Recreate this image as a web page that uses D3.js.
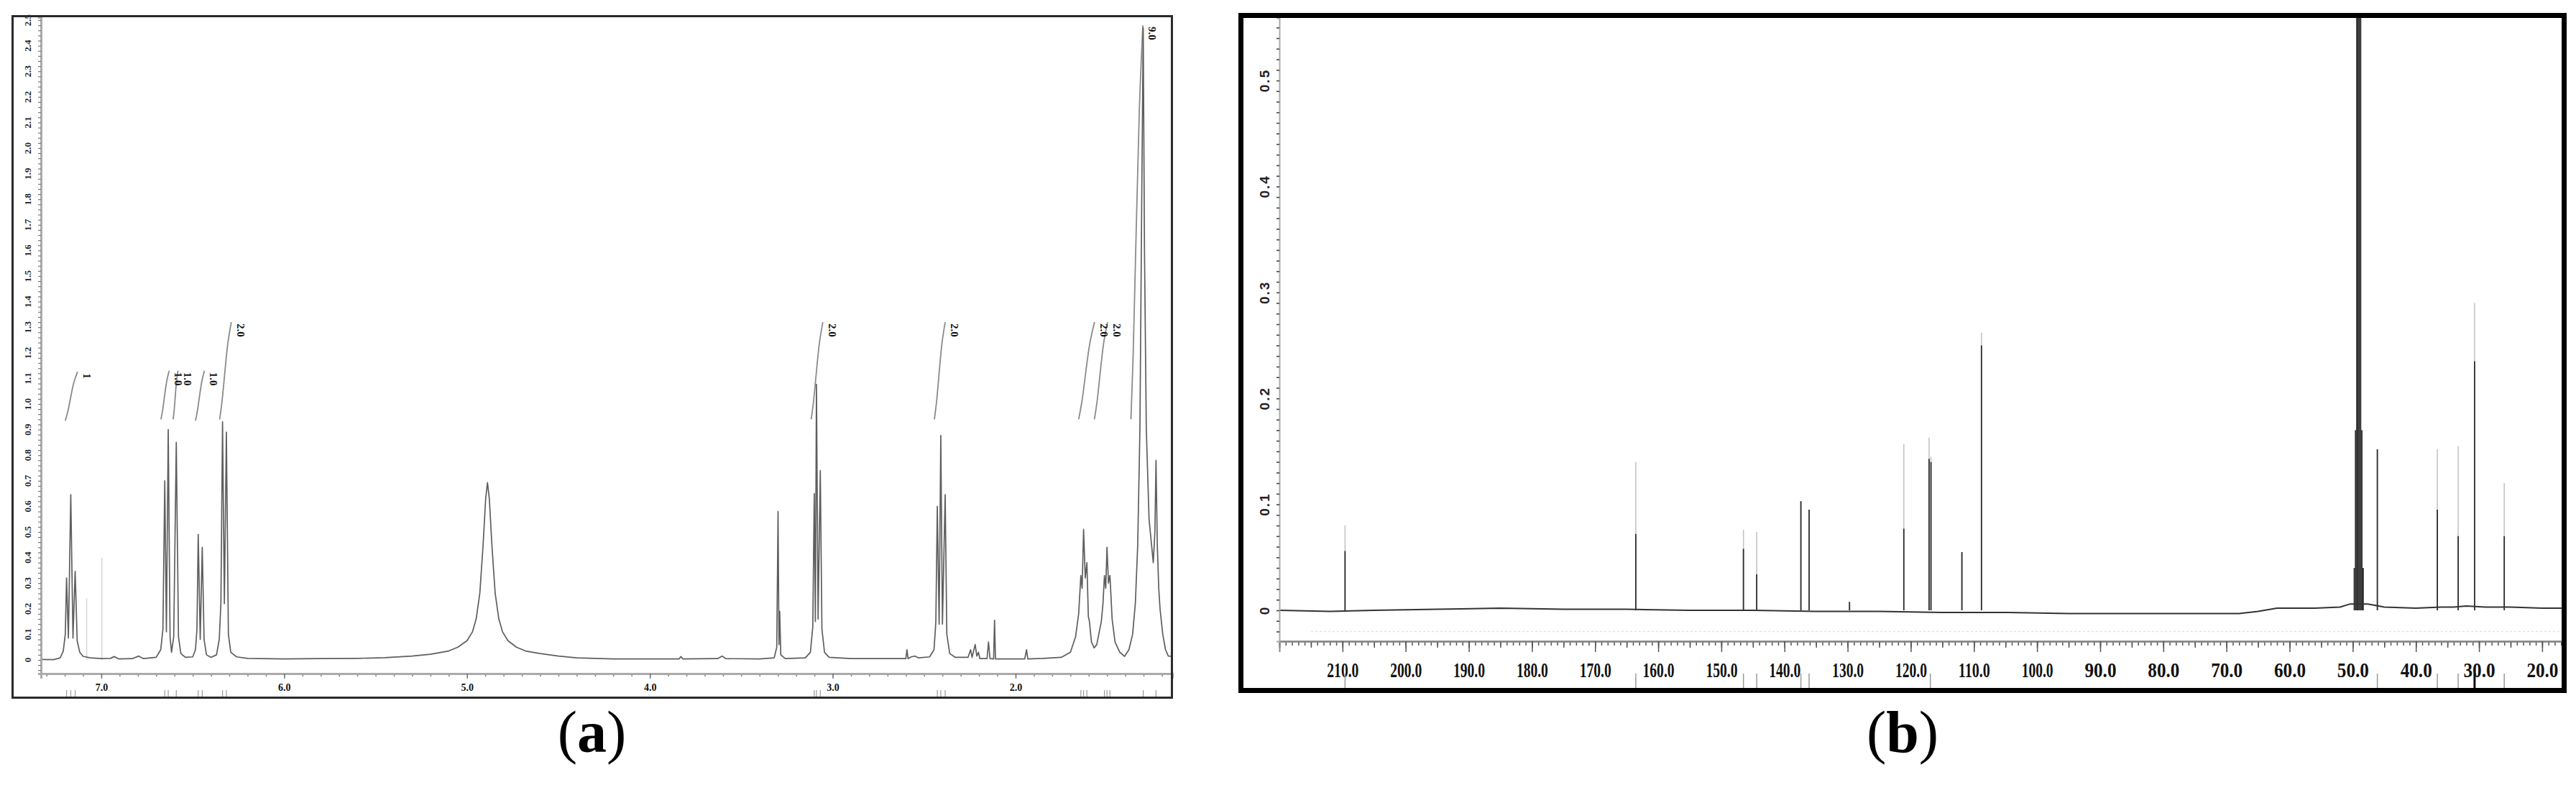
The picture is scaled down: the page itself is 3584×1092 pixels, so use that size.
<!DOCTYPE html>
<html>
<head>
<meta charset="utf-8">
<script src="https://cdn.jsdelivr.net/npm/d3@7"></script>
<style>
body { margin: 0; background: #fff; }
</style>
</head>
<body>
<script>
// ---------- panel (a) : 1H spectrum ----------
var hTrace = [
  [7.33,0.002],[7.26,0.001],[7.225,0.008],[7.208,0.035],[7.197,0.1],[7.19,0.32],[7.18,0.085],
  [7.167,0.646],[7.155,0.085],[7.143,0.346],[7.132,0.075],[7.118,0.03],[7.10,0.014],[7.06,0.008],
  [7.0,0.005],[6.95,0.006],[6.93,0.013],[6.905,0.004],[6.83,0.005],[6.795,0.015],[6.77,0.005],
  [6.70,0.01],[6.675,0.04],[6.663,0.12],[6.653,0.70],[6.644,0.11],[6.634,0.90],[6.624,0.09],
  [6.616,0.03],[6.604,0.09],[6.59,0.85],[6.578,0.09],[6.565,0.025],[6.54,0.01],[6.50,0.012],
  [6.485,0.04],[6.477,0.12],[6.470,0.49],[6.459,0.08],[6.448,0.44],[6.438,0.08],[6.425,0.02],
  [6.40,0.01],[6.37,0.02],[6.355,0.08],[6.346,0.22],[6.337,0.93],[6.327,0.22],[6.316,0.89],
  [6.305,0.10],[6.292,0.03],[6.26,0.012],[6.2,0.006],[6.0,0.004],[5.8,0.005],[5.6,0.006],
  [5.45,0.009],[5.3,0.015],[5.2,0.022],[5.1,0.035],[5.05,0.05],[5.0,0.075],[4.97,0.11],
  [4.95,0.16],[4.93,0.26],[4.912,0.45],[4.898,0.63],[4.888,0.693],[4.878,0.63],[4.864,0.45],
  [4.846,0.26],[4.826,0.16],[4.806,0.11],[4.776,0.075],[4.73,0.05],[4.68,0.035],[4.6,0.025],
  [4.5,0.015],[4.4,0.008],[4.2,0.004],[3.84,0.004],[3.83,0.013],[3.82,0.004],[3.63,0.005],
  [3.605,0.015],[3.585,0.005],[3.40,0.004],[3.32,0.008],[3.306,0.05],[3.299,0.58],[3.294,0.06],
  [3.29,0.19],[3.284,0.02],[3.26,0.005],[3.15,0.008],[3.122,0.03],[3.109,0.13],[3.101,0.65],
  [3.095,0.15],[3.089,1.077],[3.08,0.16],[3.068,0.74],[3.059,0.12],[3.045,0.03],[3.02,0.01],
  [2.9,0.005],[2.7,0.005],[2.60,0.005],[2.594,0.04],[2.588,0.005],[2.57,0.012],[2.55,0.015],
  [2.53,0.008],[2.47,0.012],[2.446,0.04],[2.436,0.15],[2.428,0.60],[2.418,0.14],[2.409,0.877],
  [2.40,0.14],[2.385,0.646],[2.376,0.10],[2.36,0.025],[2.33,0.01],[2.26,0.01],[2.246,0.04],
  [2.238,0.01],[2.221,0.06],[2.212,0.015],[2.203,0.03],[2.195,0.005],[2.156,0.005],[2.148,0.07],
  [2.14,0.005],[2.12,0.004],[2.115,0.155],[2.11,0.004],[1.95,0.004],[1.940,0.04],[1.933,0.004],
  [1.85,0.006],[1.75,0.01],[1.70,0.03],[1.672,0.09],[1.655,0.18],[1.643,0.33],[1.636,0.28],
  [1.628,0.51],[1.619,0.32],[1.61,0.38],[1.602,0.17],[1.596,0.15],[1.585,0.07],[1.57,0.047],
  [1.556,0.06],[1.545,0.10],[1.531,0.15],[1.522,0.22],[1.514,0.33],[1.507,0.28],[1.500,0.44],
  [1.492,0.30],[1.484,0.33],[1.472,0.16],[1.456,0.07],[1.43,0.03],[1.404,0.014],[1.38,0.04],
  [1.36,0.10],[1.345,0.22],[1.332,0.45],[1.32,0.9],[1.31,1.8],[1.302,2.47],[1.295,1.6],
  [1.285,0.9],[1.27,0.55],[1.247,0.38],[1.238,0.5],[1.232,0.78],[1.225,0.45],[1.217,0.28],
  [1.21,0.2],[1.195,0.10],[1.18,0.04],[1.165,0.015],[1.143,0.014]
];
// faint scan artefacts near 7 ppm
var hGhostPpm = [7.08, 6.997];
var hGhostVal = [0.24, 0.40];

// integration curves
var intStart = [7.197, 6.674, 6.607, 6.485, 6.353, 3.118, 2.444, 1.655, 1.569, 1.369];
var intEnd   = [7.130, 6.629, 6.581, 6.436, 6.289, 3.054, 2.385, 1.568, 1.497, 1.304];
var intLow   = [0.935, 0.94, 0.94, 0.935, 0.94, 0.94, 0.94, 0.94, 0.94, 0.94];
var intHigh  = [1.126, 1.13, 1.13, 1.13, 1.32, 1.32, 1.32, 1.32, 1.32, 2.48];
var intLabels = ["1", "1.0", "1.0", "1.0", "2.0", "2.0", "2.0", "2.0", "2.0", "9.0"];

// peak pick marks under the axis
var hMarks = [7.19,7.167,7.143,6.653,6.634,6.59,6.47,6.448,6.337,6.316,3.101,3.089,3.068,
              2.428,2.409,2.385,1.643,1.628,1.61,1.514,1.5,1.484,1.302,1.232];

var hTickLabels = [7, 6, 5, 4, 3, 2];

// ---------- panel (b) : 13C spectrum ----------
var cBase = [
  [220,0],[212,-0.001],[205,0],[195,0.001],[185,0.002],[175,0.001],[165,0.001],[155,0],
  [145,0],[135,-0.001],[125,-0.001],[115,-0.002],[105,-0.002],[95,-0.003],[85,-0.003],
  [75,-0.003],[68,-0.003],[65,-0.001],[62,0.002],[56,0.002],[52,0.003],[50.4,0.006],
  [47.6,0.006],[45,0.003],[40,0.002],[36,0.003],[34,0.003],[32,0.004],[29,0.003],[25,0.003],
  [20,0.002],[16.8,0.002]
];
var cPpm  = [209.6, 163.55, 146.5, 144.4, 137.4, 136.1, 129.7, 121.1, 117.1, 116.8, 111.9, 108.8,
             49.75, 49.55, 49.35, 49.15, 48.95, 48.75, 48.55, 48.35,
             46.1, 36.6, 33.3, 30.7, 26.0];
var cDark = [0.056, 0.072, 0.058, 0.034, 0.103, 0.095, 0.008, 0.077, 0.143, 0.14, 0.055, 0.25,
             0.04, 0.17, 0.8, 0.8, 0.8, 0.8, 0.17, 0.04,
             0.152, 0.095, 0.07, 0.235, 0.07];
var cFull = [0.08, 0.14, 0.076, 0.074, 0.103, 0.095, 0.008, 0.157, 0.163, 0.145, 0.055, 0.262,
             0.04, 0.17, 0.8, 0.8, 0.8, 0.8, 0.17, 0.04,
             0.152, 0.152, 0.155, 0.29, 0.12];
var cMarks = [209.6, 163.55, 146.5, 144.4, 137.4, 136.1, 116.9, 46.1, 36.6, 33.3, 30.7, 26.0];
var cTickLabels = d3.range(20, 211, 10);
var cYLabels = [0, 0.1, 0.2, 0.3, 0.4, 0.5];

var panelLabels = ["a", "b"];

// ======================================================
var svg = d3.select("body").append("svg")
  .attr("width", 3584)
  .attr("height", 1092)
  .style("background", "#fff");

var defs = svg.append("defs");

// ---------------- (a) ----------------
var xA = d3.scaleLinear().domain([7.33, 1.143]).range([57, 1631]);
var yA = d3.scaleLinear().domain([0, 2.5]).range([918, 28]);

defs.append("clipPath").attr("id", "clipA")
  .append("rect").attr("x", 58).attr("y", 24).attr("width", 1572).attr("height", 912);

var gA = svg.append("g");

// ghost lines
gA.append("g").attr("clip-path", "url(#clipA)")
  .selectAll("line").data(hGhostPpm).enter().append("line")
  .attr("x1", function(d){ return xA(d); }).attr("x2", function(d){ return xA(d); })
  .attr("y1", yA(0)).attr("y2", function(d, i){ return yA(hGhostVal[i]); })
  .attr("stroke", "#d6d6d6").attr("stroke-width", 1.5);

// integrals
var intLine = d3.line().curve(d3.curveCatmullRom);
var gInt = gA.append("g").attr("clip-path", "url(#clipA)");
intStart.forEach(function(s, i){
  var x0 = xA(s), x1 = xA(intEnd[i]), y0 = yA(intLow[i]), y1 = yA(intHigh[i]);
  var pts = [[x0, y0], [x0 + 0.2*(x1-x0), y0 + 0.18*(y1-y0)],
             [x0 + 0.7*(x1-x0), y0 + 0.78*(y1-y0)], [x1, y1]];
  gInt.append("path").attr("d", intLine(pts))
    .attr("fill", "none").attr("stroke", "#8a8a8a").attr("stroke-width", 1.8);
});
gA.append("g").selectAll("text").data(intLabels).enter().append("text")
  .attr("transform", function(d, i){
    return "translate(" + (xA(intEnd[i]) + 13) + "," + (yA(intHigh[i]) + 2) + ") rotate(90)";
  })
  .attr("dominant-baseline", "central")
  .attr("font-family", "Liberation Serif, serif")
  .attr("font-weight", "bold")
  .attr("font-size", 15)
  .attr("fill", "#111")
  .text(function(d){ return d; });

// spectrum trace
var lineA = d3.line()
  .x(function(d){ return xA(d[0]); })
  .y(function(d){ return yA(d[1]); });
gA.append("path").datum(hTrace)
  .attr("clip-path", "url(#clipA)")
  .attr("d", lineA)
  .attr("fill", "none")
  .attr("stroke", "#5e5e5e")
  .attr("stroke-width", 1.7)
  .attr("stroke-linejoin", "round");

// axes (a)
var yAaxis = yA.copy().domain([yA.invert(937), yA.invert(24)]).range([937, 24]);
var axAx = gA.append("g").attr("transform", "translate(0,937)");
axAx.call(d3.axisBottom(xA).tickValues(d3.range(73, 11, -1).map(function(v){ return v/10; }))
  .tickSize(4).tickFormat(""));
axAx.append("g").call(d3.axisBottom(xA).tickValues(hTickLabels).tickSize(7).tickPadding(7)
  .tickFormat(d3.format(".1f")));
axAx.selectAll(".domain").attr("stroke", "#aaa").attr("stroke-width", 3);
axAx.selectAll(".tick line").attr("stroke", "#777").attr("stroke-width", 1.5);
axAx.selectAll("text").attr("font-family", "Liberation Serif, serif")
  .attr("font-weight", "bold").attr("font-size", 14).attr("fill", "#111");

var axAy = gA.append("g").attr("transform", "translate(57,0)");
axAy.call(d3.axisLeft(yAaxis).tickValues(d3.range(-2, 126).map(function(v){ return v/50; }))
  .tickSize(4).tickFormat(""));
axAy.selectAll(".domain").attr("stroke", "#aaa").attr("stroke-width", 3);
axAy.selectAll(".tick line").attr("stroke", "#777").attr("stroke-width", 1.2);
gA.append("g").selectAll("text").data(d3.range(0, 26).map(function(v){ return v/10; }))
  .enter().append("text")
  .attr("transform", function(d){ return "translate(38," + yA(d) + ") rotate(-90)"; })
  .attr("text-anchor", "middle")
  .attr("dominant-baseline", "central")
  .attr("font-family", "Liberation Serif, serif")
  .attr("font-weight", "bold")
  .attr("font-size", 13)
  .attr("fill", "#222")
  .text(function(d){ return d === 0 ? "0" : d3.format(".1f")(d); });

// peak marks (a)
gA.append("g").selectAll("line").data(hMarks).enter().append("line")
  .attr("x1", function(d){ return xA(d); }).attr("x2", function(d){ return xA(d); })
  .attr("y1", 960).attr("y2", 969)
  .attr("stroke", "#999").attr("stroke-width", 1.2);

// frame (a)
gA.append("rect").attr("x", 17.5).attr("y", 22.5).attr("width", 1613).attr("height", 948)
  .attr("fill", "none").attr("stroke", "#2a2a2a").attr("stroke-width", 3);

// ---------------- (b) ----------------
var xB = d3.scaleLinear().domain([220, 16.8]).range([1780, 3565]);
var yB = d3.scaleLinear().domain([0, 0.5]).range([849, 112]);

defs.append("clipPath").attr("id", "clipB")
  .append("rect").attr("x", 1781).attr("y", 25).attr("width", 1784).attr("height", 866);

var gB = svg.append("g");

// faint scan line under baseline
gB.append("line")
  .attr("x1", xB(215)).attr("x2", xB(16.8))
  .attr("y1", yB(-0.02)).attr("y2", yB(-0.02))
  .attr("stroke", "#e2e2e2").attr("stroke-width", 1.5).attr("stroke-dasharray", "3,3");

var gPk = gB.append("g").attr("clip-path", "url(#clipB)");
gPk.selectAll("line.full").data(cPpm).enter().append("line").attr("class", "full")
  .attr("x1", function(d){ return xB(d); }).attr("x2", function(d){ return xB(d); })
  .attr("y1", yB(0)).attr("y2", function(d, i){ return yB(cFull[i]); })
  .attr("stroke", "#c4c4c4").attr("stroke-width", 1.6);
gPk.selectAll("line.dark").data(cPpm).enter().append("line").attr("class", "dark")
  .attr("x1", function(d){ return xB(d); }).attr("x2", function(d){ return xB(d); })
  .attr("y1", yB(0)).attr("y2", function(d, i){ return yB(cDark[i]); })
  .attr("stroke", "#2e2e2e").attr("stroke-width", 1.8);

var lineB = d3.line()
  .x(function(d){ return xB(d[0]); })
  .y(function(d){ return yB(d[1]); });
gB.append("path").datum(cBase)
  .attr("clip-path", "url(#clipB)")
  .attr("d", lineB)
  .attr("fill", "none").attr("stroke", "#333").attr("stroke-width", 2);

// axes (b)
var yBaxis = yB.copy().domain([yB.invert(892), yB.invert(25)]).range([892, 25]);
var axBx = gB.append("g").attr("transform", "translate(0,892)");
axBx.call(d3.axisBottom(xB).tickValues(d3.range(17, 220)).tickSize(6).tickFormat(""));
axBx.append("g").call(d3.axisBottom(xB).tickValues(d3.range(20, 220, 5)).tickSize(9).tickFormat(""));
axBx.append("g").call(d3.axisBottom(xB).tickValues(cTickLabels).tickSize(15).tickPadding(14)
  .tickFormat(d3.format(".1f")));
axBx.selectAll(".domain").attr("stroke", "#888").attr("stroke-width", 2);
axBx.selectAll(".tick line").attr("stroke", "#555").attr("stroke-width", 1.5);
axBx.selectAll("text")
  .attr("font-family", "Liberation Serif, serif")
  .attr("font-weight", "bold")
  .attr("font-size", 30)
  .attr("fill", "#111")
  .attr("textLength", 44)
  .attr("lengthAdjust", "spacingAndGlyphs");

var axBy = gB.append("g").attr("transform", "translate(1780,0)");
axBy.call(d3.axisLeft(yBaxis).tickValues(d3.range(-2, 57).map(function(v){ return v/100; }))
  .tickSize(4).tickFormat(""));
axBy.selectAll(".domain").attr("stroke", "#aaa").attr("stroke-width", 2);
axBy.selectAll(".tick line").attr("stroke", "#444").attr("stroke-width", 1.6);
gB.append("g").selectAll("text").data(cYLabels).enter().append("text")
  .attr("transform", function(d){ return "translate(1759," + yB(d) + ") rotate(-90)"; })
  .attr("text-anchor", "middle")
  .attr("dominant-baseline", "central")
  .attr("font-family", "Liberation Sans, sans-serif")
  .attr("font-weight", "bold")
  .attr("font-size", 19)
  .attr("letter-spacing", 2)
  .attr("fill", "#222")
  .text(function(d){ return d === 0 ? "0" : d3.format(".1f")(d); });

// peak marks (b)
gB.append("g").selectAll("line").data(cMarks).enter().append("line")
  .attr("x1", function(d){ return xB(d); }).attr("x2", function(d){ return xB(d); })
  .attr("y1", 937).attr("y2", 957)
  .attr("stroke", function(d){ return d === 30.7 ? "#111" : "#999"; })
  .attr("stroke-width", function(d){ return d === 30.7 ? 3 : 1.5; });

// frame (b)
gB.append("rect").attr("x", 1726.5).attr("y", 21.5).attr("width", 1841).attr("height", 939)
  .attr("fill", "none").attr("stroke", "#000").attr("stroke-width", 7);

// ---------------- panel letters ----------------
var letterX = [823.5, 2647];
svg.selectAll("text.panel").data(panelLabels).enter().append("text").attr("class", "panel")
  .attr("x", function(d, i){ return letterX[i]; })
  .attr("y", 1046)
  .attr("text-anchor", "middle")
  .attr("font-family", "Liberation Serif, Times New Roman, serif")
  .attr("font-size", 82)
  .attr("fill", "#000")
  .each(function(d){
    var t = d3.select(this);
    t.append("tspan").text("(");
    t.append("tspan").attr("font-weight", "bold").text(d);
    t.append("tspan").text(")");
  });
</script>
</body>
</html>
